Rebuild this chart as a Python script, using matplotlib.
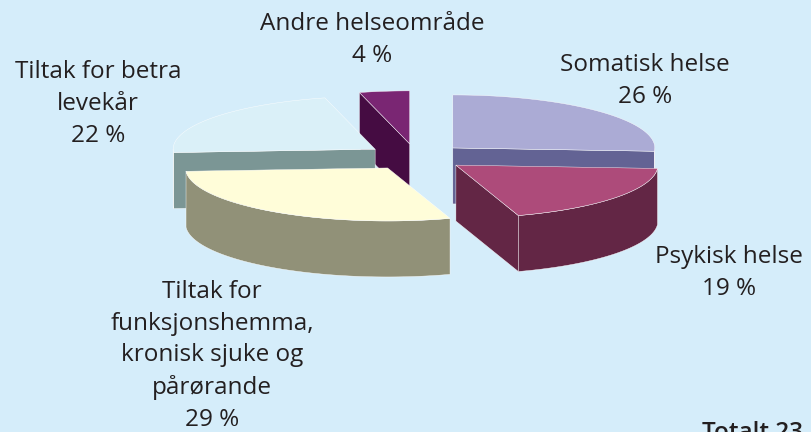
import numpy as np
import matplotlib
matplotlib.use("Agg")
import matplotlib.pyplot as plt
from matplotlib.patches import Polygon

# data (share of total, percent), clockwise from 12 o'clock
labels = ["Somatisk helse", "Psykisk helse",
          "Tiltak for\nfunksjonshemma,\nkronisk sjuke og\npårørande",
          "Tiltak for betra\nlevekår", "Andre helseområde"]
shares = [26, 19, 29, 22, 4]
top_colors = ["#ABABD5", "#AD4B7A", "#FFFDD9", "#DAF0F8", "#7A2673"]
side_colors = ["#636394", "#632645", "#919178", "#7B9695", "#450C42"]
label_pos = [(645, 81), (729, 273), (212, 356), (98, 104), (372, 40)]

BG = "#D5EDFA"
CX, CY = 416, 157       # pie centre in pixels
RX, RY = 202, 53        # flattened radius
DEPTH = 56
EXPLODE = 0.25

plt.rcParams["font.family"] = ["Open Sans", "DejaVu Sans"]

fig = plt.figure(figsize=(8.11, 4.32), dpi=100)
fig.patch.set_facecolor(BG)
ax = fig.add_axes([0, 0, 1, 1])
ax.set_xlim(0, 811)
ax.set_ylim(432, 0)
ax.axis("off")


def pt(cx, cy, a):
    r = np.radians(a)
    return cx + RX * np.sin(r), cy - RY * np.cos(r)


total = sum(shares)
bounds = np.concatenate([[0], np.cumsum(shares)]) / total * 360
wedges = []
for i in range(len(shares)):
    t1, t2 = bounds[i], bounds[i + 1]
    m = np.radians((t1 + t2) / 2)
    cx = CX + EXPLODE * RX * np.sin(m)
    cy = CY - EXPLODE * RY * np.cos(m)
    wedges.append((cy, i, t1, t2, cx))

for cy, i, t1, t2, cx in sorted(wedges):
    faces = []
    # radial faces that look towards the viewer
    for a, nrm in [(t1, t1 - 90), (t2, t2 + 90)]:
        if np.cos(np.radians(nrm)) < -1e-6:
            px, py = pt(cx, cy, a)
            faces.append([(cx, cy), (px, py), (px, py + DEPTH), (cx, cy + DEPTH)])
    # front part of the outer rim
    a1, a2 = max(t1, 90), min(t2, 270)
    if a2 > a1:
        arc = np.linspace(a1, a2, 80)
        xs, ys = pt(cx, cy, arc)
        top = list(zip(xs, ys))
        bot = list(zip(xs[::-1], ys[::-1] + DEPTH))
        faces.append(top + bot)
    for f in faces:
        ax.add_patch(Polygon(f, closed=True, fc=side_colors[i],
                             ec="#FFFFFF", lw=0.3, joinstyle="round"))
    arc = np.linspace(t1, t2, 120)
    xs, ys = pt(cx, cy, arc)
    ax.add_patch(Polygon([(cx, cy)] + list(zip(xs, ys)), closed=True,
                         fc=top_colors[i], ec="#FFFFFF", lw=0.3))

for i, (lx, ly) in enumerate(label_pos):
    ax.text(lx, ly, f"{labels[i]}\n{shares[i]} %", ha="center", va="center",
            fontsize=17.5, color="#231F20", linespacing=1.42)

ax.text(702, 421, "Totalt 23", ha="left", va="top", fontsize=17.5,
        color="#231F20", fontweight="semibold")

fig.savefig("out.png", dpi=100, facecolor=BG)
